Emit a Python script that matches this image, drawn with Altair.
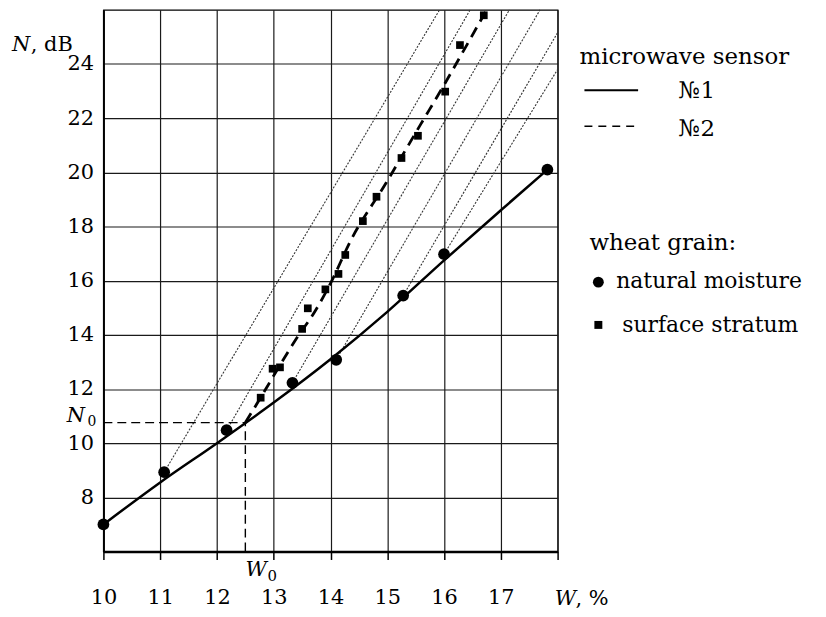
import altair as alt
import pandas as pd

FONT = "DejaVu Serif"

# ---- data ----
natural_W = [10.0, 11.07, 12.17, 13.33, 14.10, 15.28, 16.0, 17.82]
natural_N = [7.0, 8.93, 10.48, 12.23, 13.08, 15.45, 16.98, 20.1]

surface_W = [12.77, 12.98, 13.11, 13.50, 13.60, 13.91, 14.14, 14.26, 14.57, 14.81, 15.25, 15.54, 16.02, 16.28, 16.70]
surface_N = [11.68, 12.75, 12.80, 14.22, 14.98, 15.68, 16.25, 16.95, 18.20, 19.10, 20.53, 21.35, 22.98, 24.70, 25.80]

sensor1_W = [10.0, 11.0, 12.0, 13.0, 14.0, 15.0, 16.0, 17.0, 17.82]
sensor1_N = [7.0, 8.55, 10.0, 11.5, 13.1, 14.85, 16.75, 18.6, 20.1]

sensor2_W = [12.5, 12.78, 13.03, 13.38, 13.73, 14.0, 14.36, 14.97, 15.59, 16.02, 16.4, 16.75]
sensor2_N = [10.76, 11.72, 12.6, 13.8, 14.88, 15.9, 17.5, 19.58, 21.78, 23.3, 24.7, 26.0]

dot_W_start = [11.07, 12.17, 13.33, 14.10, 15.28, 16.0]
dot_N_start = [8.93, 10.48, 12.23, 13.08, 15.45, 16.98]
dot_W_end = [15.92, 16.46, 17.15, 17.69, 18.0, 18.0]
dot_N_end = [26.0, 26.0, 26.0, 26.0, 25.16, 23.8]

W0 = 12.5
N0 = 10.76

x_ticks = [10, 11, 12, 13, 14, 15, 16, 17, 18]
y_ticks = [8, 10, 12, 14, 16, 18, 20, 22, 24]

legend_title_1 = "microwave sensor"
legend_labels_1 = ["№1", "№2"]
legend_title_2 = "wheat grain:"
legend_labels_2 = ["natural moisture", "surface stratum"]

# ---- tables ----
df_nat = pd.DataFrame({"W": natural_W, "N": natural_N})
df_sur = pd.DataFrame({"W": surface_W, "N": surface_N})
df_s1 = pd.DataFrame({"W": sensor1_W, "N": sensor1_N})
df_s2 = pd.DataFrame({"W": sensor2_W, "N": sensor2_N})
rows = []
for i in range(len(dot_W_start)):
    rows.append({"id": i, "W": dot_W_start[i], "N": dot_N_start[i], "o": 0})
    rows.append({"id": i, "W": dot_W_end[i], "N": dot_N_end[i], "o": 1})
df_dot = pd.DataFrame(rows)
df_h = pd.DataFrame({"W": [10.0], "W2": [W0], "N": [N0]})
df_v = pd.DataFrame({"W": [W0], "N": [6.0], "N2": [N0]})
dummy = pd.DataFrame({"a": [0]})

xscale = alt.Scale(domain=[10, 18], nice=False, zero=False)
yscale = alt.Scale(domain=[6, 26], nice=False, zero=False)

xaxis = alt.Axis(values=x_ticks, labelExpr="datum.value == 18 ? '' : datum.label",
                 grid=True, gridColor="#1a1a1a", gridWidth=1.2, gridOpacity=1,
                 domainColor="black", domainWidth=2.5, tickColor="black", tickWidth=1.5,
                 tickSize=8, labelPadding=27, labelFont=FONT, labelFontSize=21,
                 labelColor="black", labelFlush=False, title="")
yaxis = alt.Axis(values=y_ticks, grid=True, gridColor="#1a1a1a", gridWidth=1.2, gridOpacity=1,
                 domainColor="black", domainWidth=2, ticks=False, labelPadding=10,
                 labelFont=FONT, labelFontSize=21, labelColor="black", title="")

X = alt.X("W:Q", scale=xscale, axis=xaxis, title="")
Y = alt.Y("N:Q", scale=yscale, axis=yaxis, title="")

dotted = alt.Chart(df_dot).mark_line(color="#333", strokeWidth=1.1, strokeDash=[2, 1.5]).encode(
    x=X, y=Y, detail="id:N", order="o:Q")

line1 = alt.Chart(df_s1).mark_line(color="black", strokeWidth=2.5, interpolate="monotone").encode(x=X, y=Y)
line2 = alt.Chart(df_s2).mark_line(color="black", strokeWidth=2.8, strokeDash=[11, 7],
                                   interpolate="monotone").encode(x=X, y=Y)

hrule = alt.Chart(df_h).mark_rule(color="black", strokeWidth=1.4, strokeDash=[9, 5]).encode(
    x=X, x2="W2:Q", y=Y)
vrule = alt.Chart(df_v).mark_rule(color="black", strokeWidth=1.4, strokeDash=[9, 5]).encode(
    x=X, y=Y, y2="N2:Q")

pts_nat = alt.Chart(df_nat).mark_point(shape="circle", filled=True, color="black", opacity=1, size=140).encode(x=X, y=Y)
pts_sur = alt.Chart(df_sur).mark_point(shape="square", filled=True, color="black", opacity=1, size=60).encode(x=X, y=Y)


def txt(s, x, y, size=21, style="normal", align="left"):
    return alt.Chart(dummy).mark_text(text=s, font=FONT, fontSize=size, fontStyle=style,
                                      align=align, baseline="alphabetic", color="black").encode(
        x=alt.value(x), y=alt.value(y))


annots = [
    txt("N", -92, 41, style="italic"),
    txt(", dB", -73, 41),
    txt("N", -37, 415, style="italic"),
    txt("0", -16, 419, size=14),
    txt("W", 143, 570, style="italic"),
    txt("0", 165, 575, size=15),
    txt("W", 454, 599, style="italic"),
    txt(", %", 475, 599),
    txt(legend_title_1, 479, 54, size=23),
    txt(legend_labels_1[0], 579, 89, size=23),
    txt(legend_labels_1[1], 579, 127, size=23),
    txt(legend_title_2, 489, 242, size=23),
    txt(legend_labels_2[0], 516, 280, size=22),
    txt(legend_labels_2[1], 522, 324, size=22),
]

leg_solid = alt.Chart(dummy).mark_rule(color="black", strokeWidth=2).encode(
    x=alt.value(484), x2=alt.value(538), y=alt.value(81))
leg_dash = alt.Chart(dummy).mark_rule(color="black", strokeWidth=1.5, strokeDash=[8, 6]).encode(
    x=alt.value(484), x2=alt.value(538), y=alt.value(117))
leg_circ = alt.Chart(dummy).mark_point(shape="circle", filled=True, color="black", opacity=1, size=120).encode(
    x=alt.value(498), y=alt.value(274))
leg_sq = alt.Chart(dummy).mark_point(shape="square", filled=True, color="black", opacity=1, size=64).encode(
    x=alt.value(498), y=alt.value(317))

chart = alt.layer(
    dotted, line1, line2, hrule, vrule, pts_nat, pts_sur,
    leg_solid, leg_dash, leg_circ, leg_sq, *annots
).properties(
    width=457, height=545,
    padding={"left": 96, "top": 0, "right": 262, "bottom": 62},
    autosize=alt.AutoSizeParams(type="none"),
    background="white",
).configure_view(stroke="black", strokeWidth=1.2)

chart.save("out.html", embed_options={"renderer": "svg", "actions": False})
